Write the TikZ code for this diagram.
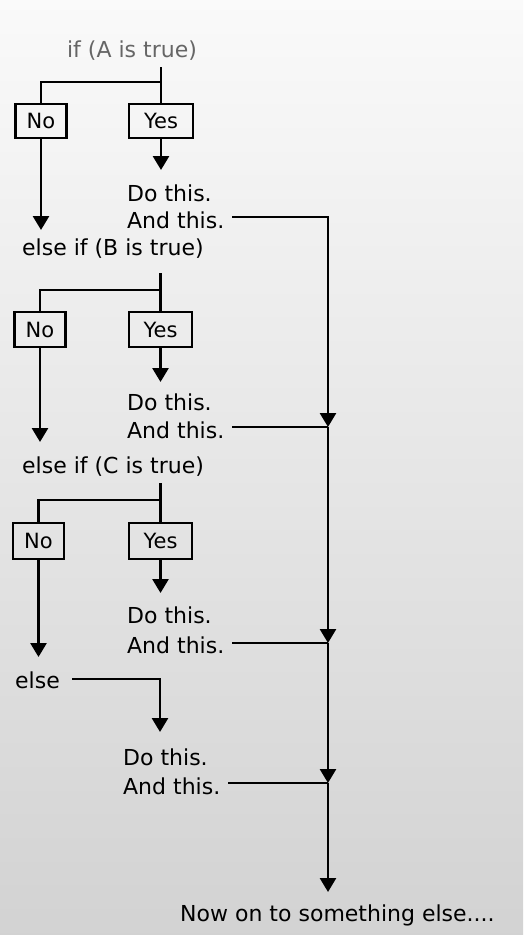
\documentclass[tikz,border=0pt]{standalone}
\usepackage{fontspec}
\setmainfont{DejaVu Sans}
\usetikzlibrary{arrows.meta}
\begin{document}
\begin{tikzpicture}[x=1pt,y=-1pt,
  ln/.style={line width=2.6pt},
  arr/.style={ln,-{Triangle[width=16pt,length=14pt]}},
  choice/.style={draw,line width=2.4pt,minimum height=34pt,inner sep=0pt,font=\fontsize{21}{25}\selectfont},
  txt/.style={anchor=west,inner sep=0pt,font=\fontsize{22}{26}\selectfont}]
\useasboundingbox (0,0) rectangle (523,935);
\shade[top color=gray!4, bottom color=gray!35] (0,0) rectangle (523,935);

% block A
\node[txt,anchor=center,text=black!60] (ifA) at (132,51) {if (A is true)};
\node[choice,minimum width=51pt] (noA) at (41,121) {No};
\node[choice,minimum width=64pt] (yesA) at (161,121) {Yes};
\node[txt] (doA) at (127,193) {Do this.};
\node[txt] (andA) at (127,220) {And this.};
\coordinate (tA) at (161,67);
\coordinate (sA) at (161,82);
\coordinate (pA) at (161,170);
\coordinate (qA) at (41,230);
\draw[ln] (tA) -- (yesA.north);
\draw[ln] (sA) -| (noA.north);
\draw[arr] (yesA.south) -- (pA);
\draw[arr] (noA.south) -- (qA);

% block B
\node[txt] (elseB) at (22,249) {else if (B is true)};
\node[choice,minimum width=51pt,minimum height=35pt] (noB) at (40,329.5) {No};
\node[choice,minimum width=63pt,minimum height=35pt] (yesB) at (160.5,329.5) {Yes};
\node[txt] (doB) at (127,402) {Do this.};
\node[txt] (andB) at (127,430) {And this.};
\coordinate (tB) at (160.5,273);
\coordinate (sB) at (160.5,290);
\coordinate (pB) at (160.5,382);
\coordinate (qB) at (40,442);
\draw[ln] (tB) -- (yesB.north);
\draw[ln] (sB) -| (noB.north);
\draw[arr] (yesB.south) -- (pB);
\draw[arr] (noB.south) -- (qB);

% block C
\node[txt] (elseC) at (22,467) {else if (C is true)};
\node[choice,minimum width=51pt,minimum height=36pt] (noC) at (38.5,541) {No};
\node[choice,minimum width=63pt,minimum height=36pt] (yesC) at (160.5,541) {Yes};
\node[txt] (doC) at (127,615) {Do this.};
\node[txt] (andC) at (127,645) {And this.};
\coordinate (tC) at (160.5,483);
\coordinate (sC) at (160.5,500);
\coordinate (pC) at (160.5,593);
\coordinate (qC) at (38.5,657);
\draw[ln] (tC) -- (yesC.north);
\draw[ln] (sC) -| (noC.north);
\draw[arr] (yesC.south) -- (pC);
\draw[arr] (noC.south) -- (qC);

% block D
\node[txt] (elseD) at (15,680) {else};
\node[txt] (doD) at (123,757) {Do this.};
\node[txt] (andD) at (123,786) {And this.};
\coordinate (pD) at (160,732);
\draw[arr] ([xshift=12pt,yshift=1pt]elseD.east) -| (pD);

% trunk
\node[txt] (now) at (180,915) {Now on to something else....};
\coordinate (j1) at (328,427);
\coordinate (j2) at (328,643);
\coordinate (j3) at (328,783);
\coordinate (fin) at (328,892);
\draw[arr] ([xshift=8pt,yshift=3pt]andA.east) -| (j1);
\draw[ln] ([xshift=8pt,yshift=3pt]andB.east) -- (j1);
\draw[arr] (j1) -- (j2);
\draw[ln] ([xshift=8pt,yshift=2pt]andC.east) -- (j2);
\draw[arr] (j2) -- (j3);
\draw[ln] ([xshift=8pt,yshift=3pt]andD.east) -- (j3);
\draw[arr] (j3) -- (fin);
\end{tikzpicture}
\end{document}
